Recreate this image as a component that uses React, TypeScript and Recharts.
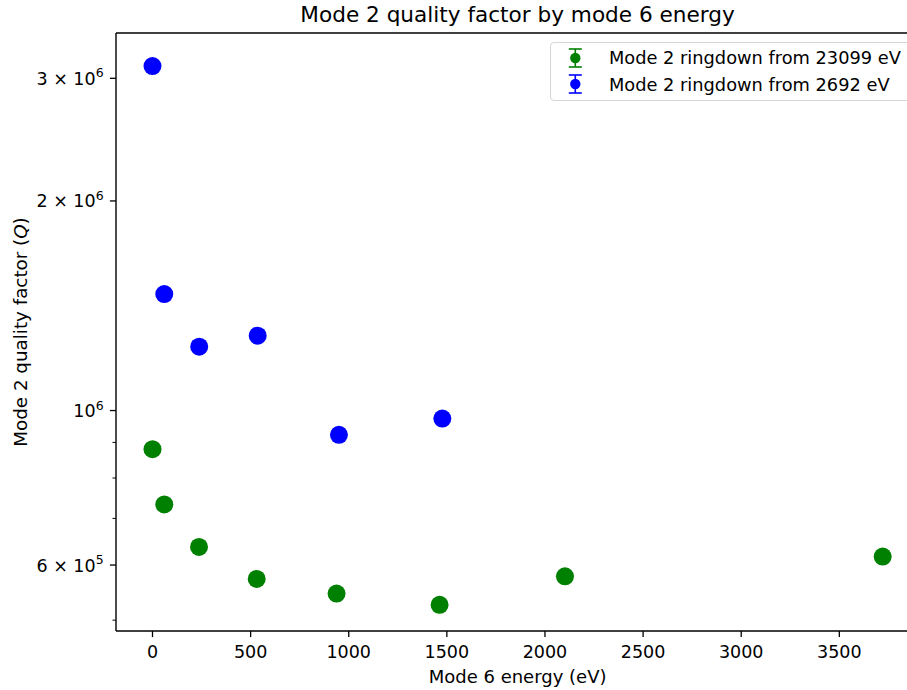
import { ScatterChart, Scatter, XAxis, YAxis, Legend, ReferenceLine } from 'recharts';

// Mode 6 energy (eV) and mode 2 quality factor for each ringdown set
const energy23099 = [0, 60, 237, 531, 938, 1463, 2102, 3721];
const q23099 = [880000, 733000, 637000, 573000, 546000, 526000, 578000, 617000];

const energy2692 = [0, 60, 238, 536, 950, 1477];
const q2692 = [3124000, 1470000, 1235000, 1281000, 923000, 974000];

const energyTicks = [0, 500, 1000, 1500, 2000, 2500, 3000, 3500];
const qTicks = [500000, 600000, 700000, 800000, 900000, 1000000, 2000000, 3000000];
// labelled (major) ticks: mantissa and exponent
const qMajor: Record<number, [string, string]> = {
  600000: ['6', '5'],
  1000000: ['', '6'],
  2000000: ['2', '6'],
  3000000: ['3', '6'],
};

const X_DOMAIN: [number, number] = [-186, 3907];
const Q_DOMAIN: [number, number] = [482400, 3485000];

const FONT = 'DejaVu Sans, sans-serif';
const GREEN = '#008000';
const BLUE = '#0000ff';

const set23099 = energy23099.map((e, i) => ({ energy: e, q: q23099[i] }));
const set2692 = energy2692.map((e, i) => ({ energy: e, q: q2692[i] }));

const Dot = (props: any) => <circle cx={props.cx} cy={props.cy} r={9} fill={props.fill} />;

const XTick = ({ x, y, payload }: any) => (
  <g>
    <line x1={x} x2={x} y1={y} y2={y + 6.1} stroke="#000" strokeWidth={1.3} />
    <text x={x} y={y + 27.3} textAnchor="middle" fontSize={17.5} fontFamily={FONT} fill="#000">
      {payload.value}
    </text>
  </g>
);

const YTick = ({ x, y, payload }: any) => {
  const major = qMajor[payload.value];
  if (!major) {
    return <line x1={x} x2={x - 3.5} y1={y} y2={y} stroke="#000" strokeWidth={1} />;
  }
  const [mant, exp] = major;
  return (
    <g>
      <line x1={x} x2={x - 6.1} y1={y} y2={y} stroke="#000" strokeWidth={1.3} />
      <text x={x - 12.4} y={y + 6.5} textAnchor="end" fontSize={17.5} fontFamily={FONT} fill="#000">
        {mant ? `${mant} \u00d7 10` : '10'}
        <tspan dy={-7.5} fontSize={12.5}>{exp}</tspan>
      </text>
    </g>
  );
};

const LegendBox = ({ payload }: any) => (
  <div
    style={{
      position: 'relative',
      width: '100%',
      height: '100%',
      boxSizing: 'border-box',
      border: '1px solid #d6d6d6',
      borderRadius: 4,
      background: '#fff',
      fontFamily: FONT,
      fontSize: 17.8,
      color: '#000',
    }}
  >
    {(payload || []).map((entry: any, i: number) => (
      <div
        key={entry.value}
        style={{ position: 'absolute', left: 0, top: 1.5 + i * 26.5, height: 26, display: 'flex', alignItems: 'center', whiteSpace: 'nowrap' }}
      >
        <svg width={58} height={26} style={{ display: 'block' }}>
          <line x1={24.3} x2={24.3} y1={4} y2={22} stroke={entry.color} strokeWidth={1.6} />
          <line x1={17.8} x2={30.8} y1={4} y2={4} stroke={entry.color} strokeWidth={1.6} />
          <line x1={17.8} x2={30.8} y1={22} y2={22} stroke={entry.color} strokeWidth={1.6} />
          <circle cx={24.3} cy={13} r={5.2} fill={entry.color} />
        </svg>
        <span>{entry.value}</span>
      </div>
    ))}
  </div>
);

export default function App() {
  return (
    <div style={{ position: 'absolute', left: 0, top: 0, width: 907, height: 690, overflow: 'hidden', background: '#fff' }}>
      <ScatterChart width={930} height={690} margin={{ top: 33, right: 10.8, bottom: 0, left: 0 }}>
        <XAxis
          dataKey="energy"
          type="number"
          domain={X_DOMAIN}
          allowDataOverflow
          ticks={energyTicks}
          interval={0}
          tick={<XTick />}
          tickSize={0}
          tickMargin={0}
          tickLine={false}
          height={59}
          axisLine={{ stroke: '#000', strokeWidth: 1.4 }}
        />
        <YAxis
          dataKey="q"
          type="number"
          scale="log"
          domain={Q_DOMAIN}
          allowDataOverflow
          ticks={qTicks}
          interval={0}
          tick={<YTick />}
          tickSize={0}
          tickMargin={0}
          tickLine={false}
          width={116}
          axisLine={{ stroke: '#000', strokeWidth: 1.4 }}
        />
        {/* top and right spines */}
        <ReferenceLine y={Q_DOMAIN[1]} stroke="#000" strokeWidth={1.4} ifOverflow="visible" />
        <ReferenceLine x={X_DOMAIN[1]} stroke="#000" strokeWidth={1.4} ifOverflow="visible" />
        <Scatter
          name="Mode 2 ringdown from 23099 eV"
          data={set23099}
          fill={GREEN}
          shape={<Dot />}
          isAnimationActive={false}
        />
        <Scatter
          name="Mode 2 ringdown from 2692 eV"
          data={set2692}
          fill={BLUE}
          shape={<Dot />}
          isAnimationActive={false}
        />
        <Legend
          layout="vertical"
          align="center"
          verticalAlign="middle"
          content={<LegendBox />}
          wrapperStyle={{ left: 550, top: 42, width: 361, height: 59 }}
        />
        <text x={517.6} y={22} textAnchor="middle" fontSize={21.6} fontFamily={FONT} fill="#000">
          Mode 2 quality factor by mode 6 energy
        </text>
        <text x={517.6} y={682.5} textAnchor="middle" fontSize={18} fontFamily={FONT} fill="#000">
          Mode 6 energy (eV)
        </text>
        <text
          x={27}
          y={332}
          transform="rotate(-90 27 332)"
          textAnchor="middle"
          fontSize={18.3}
          fontFamily={FONT}
          fill="#000"
        >
          Mode 2 quality factor (<tspan fontStyle="italic">Q</tspan>)
        </text>
      </ScatterChart>
    </div>
  );
}
